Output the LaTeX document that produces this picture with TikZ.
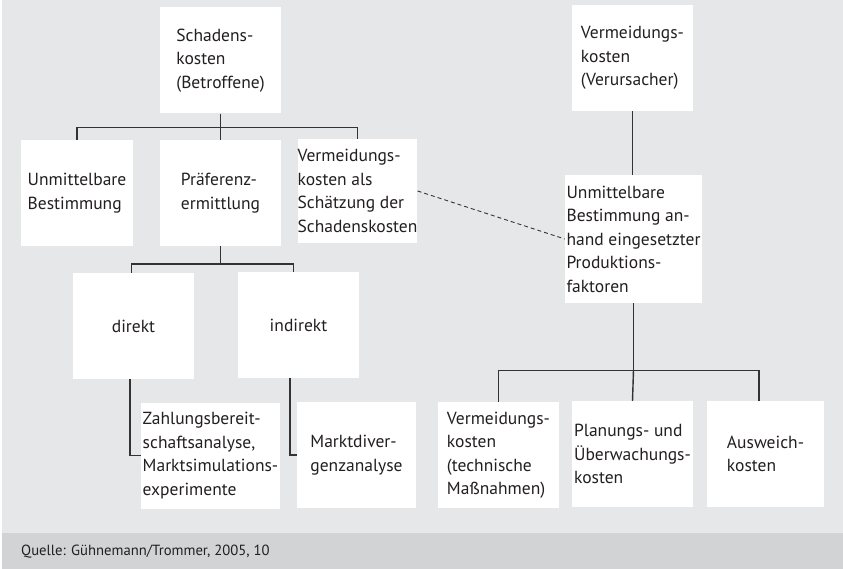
\documentclass[tikz,border=0pt]{standalone}
\usepackage{fontspec}
\setmainfont{PT Sans}
\definecolor{panel}{HTML}{E6E7E8}
\definecolor{srcbar}{HTML}{D1D3D4}
\definecolor{ink}{HTML}{333333}
\definecolor{lettering}{HTML}{231F20}
\tikzset{
  box/.style={fill=white, align=left, inner sep=0pt,
    minimum width=121pt, minimum height=106pt,
    text=lettering, font=\fontsize{17.5}{23.5}\selectfont},
  tie/.style={draw=ink, line width=1.4pt},
}
\begin{document}
\begin{tikzpicture}[x=1pt,y=-1pt]
  \useasboundingbox (0,0) rectangle (843,569);
  % background and source bar
  \fill[white] (0,0) rectangle (843,569);
  \fill[panel] (2,0) rectangle (843,533);
  \fill[srcbar] (2,533) rectangle (843,569);
  \node[anchor=west, inner sep=0pt, text=lettering, font=\fontsize{14.7}{16}\selectfont]
    (quelle) at (21,552) {Quelle: Gühnemann/Trommer, 2005, 10};
  % top boxes
  \node[box] (schaden) at (220.5,60.5) {Schadens-\\kosten\\(Betroffene)};
  \node[box] (verurs) at (632.5,58) {Vermeidungs-\\kosten\\(Verursacher)};
  % second row, left
  \node[box, minimum width=112pt] (unmit) at (77,193) {Unmittelbare\\Bestimmung};
  \node[box] (praef) at (220.5,193) {Präferenz-\\ermittlung};
  \node[box, minimum width=119pt, minimum height=104pt] (vermals) at (357.5,191)
    {Vermeidungs-\\kosten als\\Schätzung der\\Schadenskosten};
  % second row, right
  \node[box, minimum width=137pt, minimum height=128pt] (anhand) at (633.5,239)
    {Unmittelbare\\Bestimmung an-\\hand eingesetzter\\Produktions-\\faktoren};
  % direct and indirect methods
  \node[box] (direkt) at (133.5,326) {direkt};
  \node[box] (indirekt) at (298.5,325) {indirekt};
  \node[box, minimum width=139pt] (zahlung) at (210.5,455.5)
    {Zahlungsbereit-\\schaftsanalyse,\\Marktsimulations-\\experimente};
  \node[box, minimum width=119pt] (markt) at (356.5,455) {Marktdiver-\\genzanalyse};
  % bottom row, right
  \node[box] (technik) at (498.5,455) {Vermeidungs-\\kosten\\(technische\\Maßnahmen)};
  \node[box] (planung) at (632.5,454) {Planungs- und\\Überwachungs-\\kosten};
  \node[box, minimum width=117pt] (ausweich) at (765.5,454) {Ausweich-\\kosten};
  % tree below Schadenskosten
  \draw[tie] (schaden.south) -- ++(0,14) coordinate (fork1);
  \draw[tie] (unmit.north) |- (fork1) -| (vermals.north);
  \draw[tie] (fork1) -- (praef.north);
  % tree below Praeferenzermittlung
  \draw[tie] (praef.south) -- ++(0,18) coordinate (fork2);
  \draw[tie] ([xshift=-2pt]direkt.north) |- (fork2) -| ([xshift=-5pt]indirekt.north);
  \draw[tie] ([xshift=-3.5pt]direkt.south) |- (zahlung.west);
  \draw[tie] ([xshift=-8.5pt]indirekt.south) |- (markt.west);
  % right tree
  \draw[tie] (verurs.south) -- (verurs.south |- anhand.north);
  \draw[tie] (anhand.south) -- ++(0,67) coordinate (fork3);
  \draw[tie] (technik.north) |- (fork3) -| ([xshift=-6.5pt]ausweich.north);
  \draw[tie] (fork3) -- (planung.north);
  % estimate link
  \draw[ink, line width=0.9pt, dash pattern=on 4pt off 3pt] (vermals.east) -- (anhand.west);
\end{tikzpicture}
\end{document}
